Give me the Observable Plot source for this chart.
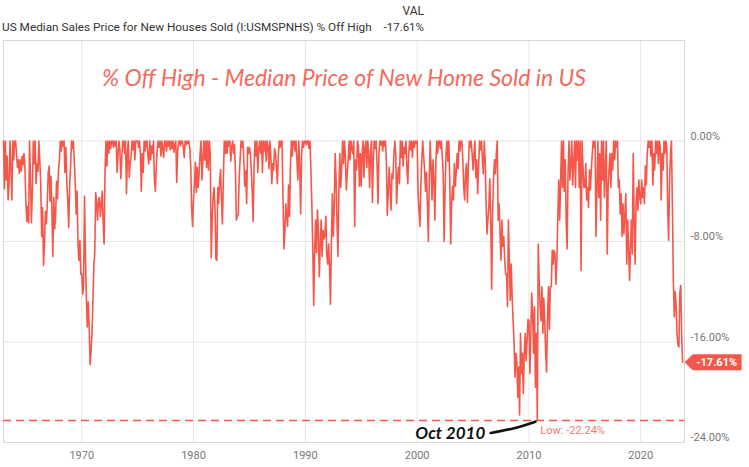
<!DOCTYPE html>
<html><head><meta charset="utf-8">
<script src="https://cdn.jsdelivr.net/npm/d3@7"></script>
<script src="https://cdn.jsdelivr.net/npm/@observablehq/plot@0.6"></script>
<style>
body{margin:0;background:#fff;font-family:Roboto,"Liberation Sans",sans-serif;}
#hdr{position:relative;width:749px;height:36px;color:#333;font-size:11.5px;line-height:14px;}
#hdr div{position:absolute;white-space:nowrap;}
#valhdr{right:325px;top:4px;font-size:12px;}
#name{left:2px;top:20px;font-size:11.8px;}
#lastv{right:325px;top:20px;}
#chart svg{display:block;}
</style></head><body>
<div id="hdr"><div id="valhdr">VAL</div><div id="name"></div><div id="lastv"></div></div>
<div id="chart"></div>
<script>
// ---- data: monthly % off high, starting January 1963 ----
const seriesName = "US Median Sales Price for New Houses Sold (I:USMSPNHS) % Off High";
const chartTitle = "% Off High - Median Price of New Home Sold in US";
const lowLabel = "Oct 2010";
const startYear = 1963;
const offHigh1960s = [
  0,-3.8,0,-3.1,-1.2,-4.7,-3.5,0,-2.1,-4.7,0,-1.5,
  0,0,-1.0,-2.1,-1.5,-2.6,-1.5,-2.4,-1.2,-1.9,-1.0,-2.0,
  -4.9,-6.4,-5.2,-6.5,0,-3.0,-6.5,-4.0,0,-1.8,0,-3.4,
  -1.8,-2.4,0,-1.6,-3.4,-7.6,-5.3,-9.9,-8.2,-5.6,-6.6,-5.0,
  -2.5,-2.0,-4.8,-2.8,-5.5,-9.2,-4.5,-7.0,-5.8,-3.2,-4.6,-2.4,
  -1.5,0,-0.8,0,-0.4,0,-2.5,-0.5,-3.4,-4.8,-6.9,-3.5,
  -2.0,0,-0.6,0,-1.5,-3.2,-5.8,-4.0,-8.3,-9.5,-7.9,-10.6
];
const offHigh1970s = [
  -10.6,-12.2,-11.5,-4.4,-9.0,-12.5,-14.8,-12.8,-14.8,-17.8,-16.7,-15.3,
  -12.7,-9.8,-9.0,-4.1,-4.9,-6.3,-4.7,-4.5,-6.0,-5.1,-4.0,-6.5,
  -8.2,-2.3,0,-2.0,0,-1.0,0,-0.6,0,0,-0.5,0,
  -0.4,0,-2.5,-1.0,0,-0.8,-3.0,-1.3,0,0,-1.0,0,
  -4.2,-1.0,0,-2.9,-1.8,-1.3,0,-0.7,0,-1.5,0,0,
  0,-0.5,0,-1.0,-4.0,-1.0,-2.5,0,-0.8,0,0,-1.2,
  -1.8,0,-1.5,-0.4,-1.0,0,-3.0,-4.0,-2.0,-0.6,0,-0.5,
  0,-1.2,0,-0.6,-1.3,0,0,-0.8,0,-0.4,0,-0.7,
  0,-0.6,0,-0.9,-0.3,0,-3.3,-0.8,0,0,-0.4,0,
  0,-0.5,-1.3,0,-0.3,0,-0.2,0,-0.6,-2.0,-5.5,-6.8
];
const offHigh1980s = [
  -4.5,-3.4,-1.7,-4.1,-2.1,-3.7,-2.6,-1.0,0,-3.1,-1.5,0,
  -1.5,0,-2.1,0,-2.3,0,-1.0,-9.3,-6.3,-4.5,-3.7,-5.2,
  -9.4,-9.5,-3.7,-5.0,-3.2,-2.3,-4.6,-6.6,-3.0,0,-1.0,0,
  -1.0,0,-0.4,0,-1.6,-0.5,0,-1.0,-0.3,-2.5,-6.3,-6.0,
  -5.8,-2.9,-1.5,0,-0.5,0,-1.5,-3.6,-2.4,-5.0,-0.5,-1.0,
  -0.5,-1.0,-2.3,-4.0,-6.4,-2.0,0,-1.2,0,-2.5,-0.6,0,
  -1.0,0,-2.5,0,-0.8,0,-1.6,0,-0.4,-2.2,0,-1.3,
  -3.4,-1.8,-2.3,-0.6,-1.0,-2.0,-3.4,-1.2,0,-0.5,0,0,
  -4.5,-8.6,-7.4,-5.0,-6.0,-6.8,-3.5,-6.0,-2.0,0,-1.2,0,
  0,-0.8,0,-1.5,-3.1,0,-2.0,-5.8,-1.0,0,-0.5,0
];
const offHigh1990s = [
  0,-0.3,0,0,-0.6,0,-2.3,-5.0,-8.6,-13.1,-8.8,-6.3,
  -8.9,-5.5,-7.0,-10.8,-8.4,-6.3,-9.2,-7.1,-7.8,-7.5,-6.0,-9.0,
  -9.8,-8.2,-10.0,-13.0,-8.0,-4.2,-7.6,-5.5,-1.0,-3.0,-6.5,-9.2,
  -3.7,-1.0,-3.7,-2.3,0,-1.8,0,-1.2,-3.9,-2.6,-1.5,0,
  -1.5,0,-0.6,-1.0,0,-6.8,-1.5,-2.3,0,-0.4,-3.6,-1.0,
  -3.6,-1.0,0,-2.9,-0.5,0,-2.1,0,-1.2,-3.7,-0.8,0,
  -4.9,-1.3,0,-0.6,0,-1.8,-5.0,-1.0,0,-0.3,0,-0.8,
  0,-0.4,0,-1.5,-5.9,-4.2,-2.1,-3.7,-5.5,-2.6,-3.0,-1.2,
  0,-1.0,-5.0,-2.9,-2.1,-3.4,0,-1.3,0,-2.0,-0.5,-1.0,
  0,-2.3,-3.4,-1.0,0,-0.7,0,-1.3,0,-0.5,0,-0.2
];
const offHigh2000s = [
  0,-4.1,-5.5,-6.8,-3.6,-1.5,0,-1.2,-2.3,-4.0,-2.5,-5.0,
  -8.0,-3.1,0,-2.0,-4.7,-1.5,-3.0,-6.3,-2.0,0,-1.0,0,
  0,-0.6,0,-1.2,-2.6,-8.0,-4.0,-1.0,0,-1.6,0,-3.0,
  -8.2,-5.0,-3.6,-4.7,-1.8,-3.6,-2.5,-1.0,-2.2,0,-0.8,0,
  0,-1.5,-3.6,-4.7,-2.5,-1.8,-4.9,-2.0,0,-0.5,0,-1.0,
  -2.3,-1.0,0,-2.9,-1.5,-4.2,-2.0,0,-0.7,0,-1.4,-2.6,
  0,-1.5,-4.7,-7.4,-6.3,-5.3,-3.0,-6.0,-11.8,-5.8,-3.0,-1.5,
  -2.6,-1.0,0,-6.3,-5.0,-7.4,-9.5,-6.3,-8.4,-7.6,-9.5,-10.6,
  -10.6,-13.2,-6.3,-9.5,-12.7,-9.8,-12.4,-14.3,-15.9,-18.8,-16.9,-17.5,
  -20.4,-18.0,-21.8,-15.3,-18.5,-16.9,-20.1,-16.9,-15.3,-17.5,-15.9,-14.2
];
const offHigh2010s = [
  -14.3,-18.5,-15.6,-12.1,-13.7,-16.9,-13.2,-19.6,-15.3,-22.24,-8.2,-11.1,
  -13.2,-14.3,-11.6,-15.3,-12.5,-14.3,-16.9,-18.4,-14.0,-11.6,-15.0,-11.6,
  -11.6,-8.7,-9.8,-8.7,-9.0,-11.4,-9.5,-6.0,-3.1,-6.3,-3.2,0,
  -3.7,0,-4.0,-1.5,-6.3,-8.6,-2.6,0,-3.1,-1.8,0,-3.5,
  -1.8,0,-3.7,0,-1.5,0,-3.7,0,-10.3,0,-2.0,-3.7,
  -3.7,-1.8,-4.7,-3.7,-5.3,-2.3,-3.9,-2.3,-1.0,0,-0.5,0,
  -7.6,-3.7,0,-4.5,-1.0,-6.3,0,-3.1,0,-4.5,-2.0,0,
  -9.0,-3.7,-2.3,-1.0,-3.7,-1.0,-2.3,0,-1.5,0,-0.5,0,
  -3.7,-3.1,-5.8,-4.2,-7.6,-5.0,-7.4,-5.8,-4.2,-9.8,-6.3,-8.5,
  -11.1,-8.4,-6.3,-9.0,-1.0,-6.3,-9.8,-5.0,-3.7,-5.5,-3.1,-4.5
];
const offHigh2020s = [
  -5.0,-3.1,-4.5,-3.7,-5.0,-2.0,-3.5,-1.0,0,-0.5,0,-1.2,
  0,-3.5,-1.0,-2.3,0,-1.0,0,-1.8,0,-0.5,-4.7,-1.0,
  -2.3,0,-1.0,0,-0.5,-5.5,-7.9,-3.0,-1.0,0,-5.2,-11.0,
  -14.0,-12.0,-13.0,-15.3,-16.2,-16.4,-12.1,-11.5,-15.7,-17.61
];
const yTicks = [0, -8, -16, -24];
const decadeTicks = [1970, 1980, 1990, 2000, 2010, 2020];

// ---- build table ----
const allValues = [].concat(offHigh1960s, offHigh1970s, offHigh1980s, offHigh1990s, offHigh2000s, offHigh2010s, offHigh2020s);
const data = allValues.map((v, i) => ({date: new Date(Date.UTC(startYear, i, 1)), value: v}));
const last = data[data.length - 1];
const low = data.reduce((a, b) => (b.value < a.value ? b : a));
const pct = v => v.toFixed(2) + "%";

document.getElementById("name").textContent = seriesName;
document.getElementById("lastv").textContent = pct(last.value);

const lineColor = "#f5574a";
const badgeShape = {
  draw(ctx) {
    ctx.moveTo(2, 0); ctx.lineTo(10, -8); ctx.lineTo(59, -8);
    ctx.lineTo(59, 8); ctx.lineTo(10, 8); ctx.closePath();
  }
};
const pointer = [
  {date: d3.utcMonth.offset(low.date, -50), value: low.value - 1.0},
  {date: d3.utcMonth.offset(low.date, -25), value: low.value - 0.62},
  {date: d3.utcMonth.offset(low.date, -2), value: low.value - 0.1}
];

const chart = Plot.plot({
  width: 749, height: 431,
  marginTop: 4, marginBottom: 25, marginLeft: 3, marginRight: 65,
  style: {fontFamily: "Roboto, sans-serif", background: "#fff"},
  x: {type: "utc", domain: [new Date(Date.UTC(1963, 0, 1)), new Date(Date.UTC(2023, 11, 1))]},
  y: {domain: [-24, 8]},
  marks: [
    Plot.gridX(decadeTicks.map(y => new Date(Date.UTC(y, 0, 1))), {stroke: "#e6e6e6", strokeOpacity: 1}),
    Plot.gridY(yTicks, {stroke: "#e6e6e6", strokeOpacity: 1}),
    Plot.frame({stroke: "#d6d6d6"}),
    Plot.axisX(decadeTicks.map(y => new Date(Date.UTC(y, 0, 1))), {tickFormat: "%Y", tickSize: 0, tickPadding: 9, fontSize: 11, color: "#777", label: null}),
    Plot.axisY(yTicks, {anchor: "right", tickFormat: pct, tickSize: 0, tickPadding: 6, dy: -5, fontSize: 11, color: "#777", label: null}),
    Plot.ruleY([low.value], {stroke: lineColor, strokeWidth: 1.5, strokeDasharray: "8,5"}),
    Plot.line(data, {x: "date", y: "value", stroke: lineColor, strokeWidth: 1.6}),
    Plot.line(pointer, {x: "date", y: "value", stroke: "#111", strokeWidth: 2.6, curve: "natural"}),
    Plot.text([low], {x: "date", y: "value", text: () => lowLabel, dx: -87, dy: 13, fontSize: 17, fontWeight: "bold", fontStyle: "italic", fontFamily: "Lato, sans-serif", fill: "#111"}),
    Plot.text([low], {x: "date", y: "value", text: d => "Low: " + pct(d.value), dx: 3, dy: 10, textAnchor: "start", fontSize: 11, fill: "#f47a6e"}),
    Plot.text([chartTitle], {frameAnchor: "top", dy: 38, lineAnchor: "middle", fontSize: 23, fontStyle: "italic", fontFamily: "Lato, sans-serif", fill: "#f46a5c"}),
    Plot.dot([last], {x: "date", y: "value", symbol: badgeShape, fill: lineColor, stroke: null}),
    Plot.text([last], {x: "date", y: "value", text: d => pct(d.value), dx: 34, fill: "#fff", fontWeight: "bold", fontSize: 11})
  ]
});
document.getElementById("chart").append(chart);
</script>
</body></html>
